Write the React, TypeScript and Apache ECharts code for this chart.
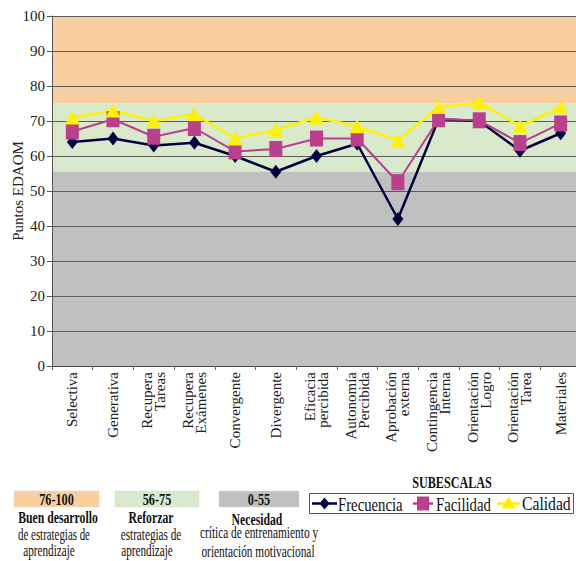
import React, { useEffect, useRef } from "react";
import * as echarts from "echarts";

const categories = [
  "Selectiva",
  "Generativa",
  "Recupera\nTareas",
  "Recupera\nExámenes",
  "Convergente",
  "Divergente",
  "Eficacia\npercibida",
  "Autonomía\nPercibida",
  "Aprobación\nexterna",
  "Contingencia\nInterna",
  "Orientación\nLogro",
  "Orientación\nTarea",
  "Materiales",
];

const frecuencia = [64, 65, 63, 63.8, 60, 55.5, 60, 63.5, 42, 70.5, 70, 61.5, 66.5];
const facilidad = [67, 70.5, 65.5, 68, 61.3, 62, 65, 65, 52.5, 70.5, 70.2, 63.7, 69.3];
const calidad = [71, 73, 70, 72, 65, 67.5, 71, 68.5, 64.5, 74, 75.3, 68.5, 74];

const seriesNames = ["Frecuencia", "Facilidad", "Calidad"];
const bandRanges: [number, number][] = [
  [75, 100],
  [55.5, 75],
  [0, 55.5],
];
const bandLabels = ["76-100", "56-75", "0-55"];
const bandTitles = ["Buen desarrollo", "Reforzar", "Necesidad"];
const bandTexts = [
  ["de estrategias de", "aprendizaje"],
  ["estrategias de", "aprendizaje"],
  ["crítica de entrenamiento y", "orientación motivacional"],
];
const legendTitle = "SUBESCALAS";
const yAxisName = "Puntos EDAOM";

const FONT = "'Liberation Serif', 'Times New Roman', serif";
const bandColors = ["#F9CF9F", "#D8EACB", "#C0C0C0"];
const seriesColors = ["#000040", "#BA3F8C", "#FFF200"];

export default function App() {
  const ref = useRef<HTMLDivElement>(null);

  useEffect(() => {
    if (!ref.current) return;
    const chart = echarts.init(ref.current, null, { renderer: "svg" });

    const txt = (
      text: string,
      x: number,
      y: number,
      size: number,
      bold: boolean,
      sx: number,
      align: string = "center"
    ) => ({
      type: "text",
      x,
      y,
      scaleX: sx,
      style: {
        text,
        fontFamily: FONT,
        fontSize: size,
        fontWeight: bold ? "bold" : "normal",
        fill: "#111",
        align,
        verticalAlign: "middle",
      },
    });

    // legend band boxes
    const boxX = [14, 115, 219];
    const boxW = [85, 84, 80];
    const titleCx = [58, 151, 257];
    const lineCx = [[54, 49], [151, 147], [259, 258]];
    const titleY = [517, 517, 519];
    const lineY = [[535, 551], [535, 551], [533, 552]];
    const lineSx = [[0.68, 0.7], [0.7, 0.7], [0.71, 0.71]];
    const graphics: any[] = [];
    for (let i = 0; i < 3; i++) {
      graphics.push({
        type: "rect",
        shape: { x: boxX[i], y: 491, width: boxW[i], height: 16 },
        style: { fill: bandColors[i], stroke: "#d8d8d8", lineWidth: 0.5 },
      });
      graphics.push(txt(bandLabels[i], boxX[i] + boxW[i] / 2, 499.5, 17, true, 0.72));
      graphics.push(txt(bandTitles[i], titleCx[i], titleY[i], 17, true, 0.69));
      graphics.push(txt(bandTexts[i][0], lineCx[i][0], lineY[i][0], 16, false, lineSx[i][0]));
      graphics.push(txt(bandTexts[i][1], lineCx[i][1], lineY[i][1], 16, false, lineSx[i][1]));
    }
    // series legend
    graphics.push(txt(legendTitle, 452, 482, 16, true, 0.76));
    graphics.push({
      type: "rect",
      shape: { x: 309.5, y: 493.5, width: 264, height: 20 },
      style: { fill: "#fff", stroke: "#555", lineWidth: 1 },
    });
    const ly = 503.5;
    // Frecuencia icon
    graphics.push({ type: "line", shape: { x1: 312, y1: ly, x2: 337, y2: ly }, style: { stroke: seriesColors[0], lineWidth: 2.5 } });
    graphics.push({
      type: "polygon",
      shape: { points: [[324.5, ly - 6], [329.5, ly], [324.5, ly + 6], [319.5, ly]] },
      style: { fill: seriesColors[0] },
    });
    graphics.push(txt(seriesNames[0], 338, ly + 1, 18, false, 0.82, "left"));
    // Facilidad icon
    graphics.push({ type: "line", shape: { x1: 413, y1: ly, x2: 433, y2: ly }, style: { stroke: seriesColors[1], lineWidth: 2.5 } });
    graphics.push({
      type: "rect",
      shape: { x: 417, y: ly - 7, width: 12, height: 14 },
      style: { fill: seriesColors[1] },
    });
    graphics.push(txt(seriesNames[1], 436, ly + 1, 18, false, 0.82, "left"));
    // Calidad icon
    graphics.push({ type: "line", shape: { x1: 497, y1: ly, x2: 520, y2: ly }, style: { stroke: seriesColors[2], lineWidth: 2.5 } });
    graphics.push({
      type: "polygon",
      shape: { points: [[508.5, ly - 7], [515.5, ly + 5], [501.5, ly + 5]] },
      style: { fill: seriesColors[2] },
    });
    graphics.push(txt(seriesNames[2], 522, ly + 1, 18, false, 0.87, "left"));

    const symbols = ["diamond", "rect", "triangle"];
    const sizes: any[] = [[11, 14], [13, 16], [15, 14]];
    const widths = [2.5, 2, 2.5];
    const datas = [frecuencia, facilidad, calidad];

    const series: any[] = datas.map((d, i) => ({
      name: seriesNames[i],
      type: "line",
      data: d,
      symbol: symbols[i],
      symbolSize: sizes[i],
      z: 3,
      lineStyle: { color: seriesColors[i], width: widths[i] },
      itemStyle: { color: seriesColors[i] },
      silent: true,
    }));
    series[0].markArea = {
      silent: true,
      z: 1,
      itemStyle: { borderWidth: 0 },
      data: bandRanges.map((r, i) => [
        { yAxis: r[1], itemStyle: { color: bandColors[i] } },
        { yAxis: r[0] },
      ]),
    };

    chart.setOption({
      animation: false,
      backgroundColor: "#fff",
      grid: { left: 52, right: -5, top: 16, bottom: 195, outerBoundsMode: "none", containLabel: false },
      xAxis: {
        type: "category",
        data: categories,
        boundaryGap: true,
        z: 1.5,
        axisLine: { lineStyle: { color: "#444", width: 1 } },
        axisTick: { show: true, length: 4, lineStyle: { color: "#666" } },
        axisLabel: {
          interval: 0,
          rotate: 90,
          fontFamily: FONT,
          fontSize: 15,
          lineHeight: 13,
          color: "#222",
          margin: 6,
        },
      },
      yAxis: {
        type: "value",
        min: 0,
        max: 100,
        interval: 10,
        z: 1.5,
        name: yAxisName,
        nameLocation: "middle",
        nameGap: 27,
        nameMoveOverlap: false,
        nameTextStyle: { fontFamily: FONT, fontSize: 15, color: "#222" },
        axisLine: { show: true, lineStyle: { color: "#555", width: 1 } },
        axisTick: { show: true, length: 5, lineStyle: { color: "#555" } },
        splitLine: { show: true, lineStyle: { color: "#5a5a5a", width: 1 } },
        axisLabel: { fontFamily: FONT, fontSize: 15, color: "#222", margin: 7 },
      },
      series,
      graphic: graphics,
    });

    return () => chart.dispose();
  }, []);

  return (
    <div
      ref={ref}
      style={{ position: "fixed", left: 0, top: 0, width: 576, height: 561, background: "#fff" }}
    />
  );
}
